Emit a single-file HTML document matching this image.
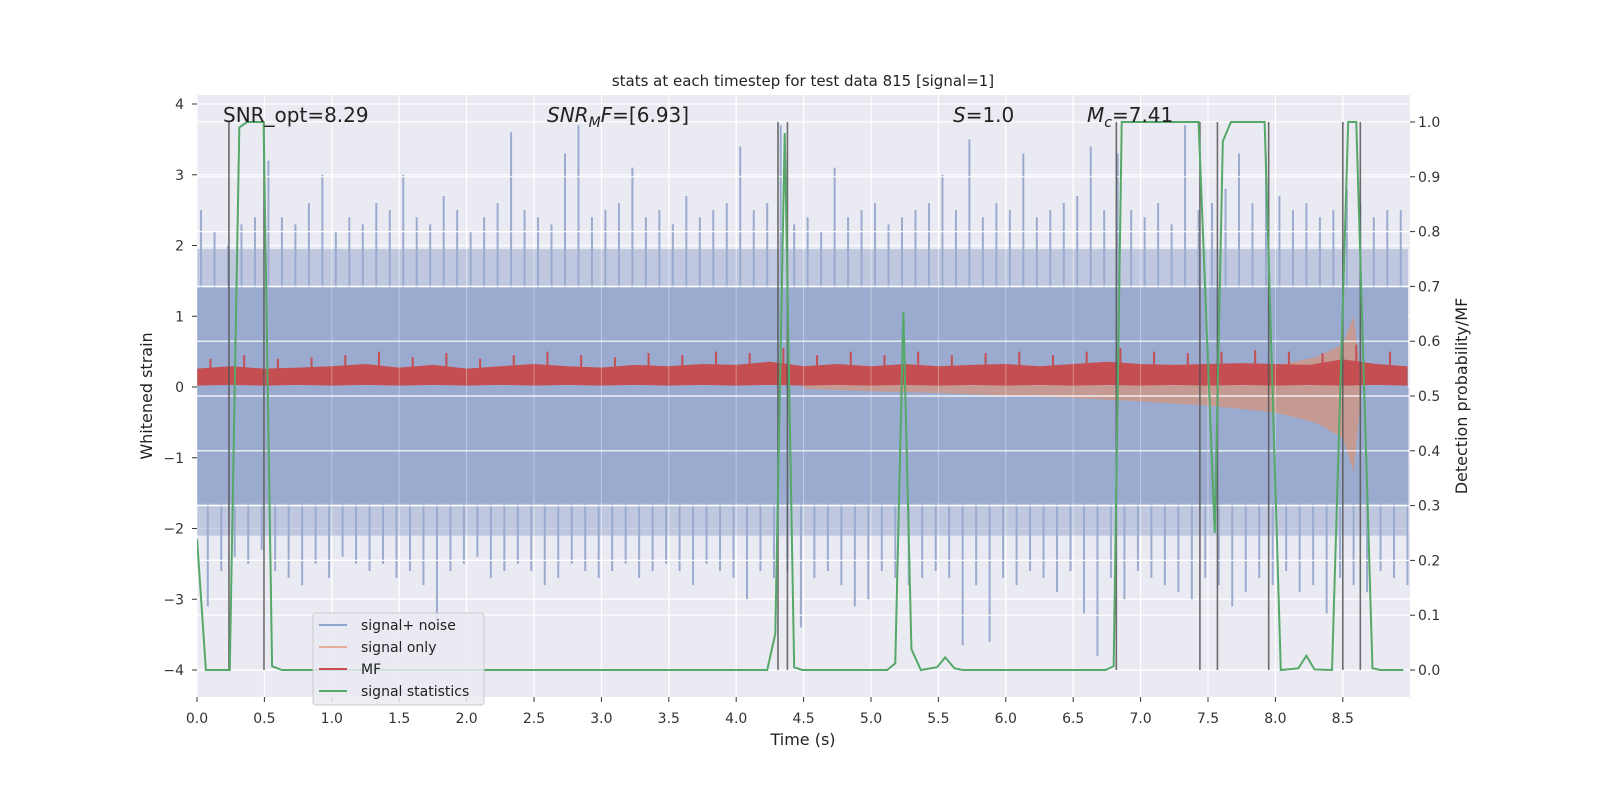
<!DOCTYPE html>
<html><head><meta charset="utf-8"><style>
html,body{margin:0;padding:0;background:#fff;}
svg{display:block;font-family:"DejaVu Sans","Liberation Sans",sans-serif;}
</style></head><body>
<svg id="chart" width="1600" height="800" viewBox="0 0 1600 800" xmlns="http://www.w3.org/2000/svg">
<defs><clipPath id="plotClip"><rect x="197" y="95" width="1213" height="602"/></clipPath></defs>
<rect x="0" y="0" width="1600" height="800" fill="#ffffff"/>
<rect x="197" y="95" width="1213" height="602" fill="#eaeaf2"/>
<g clip-path="url(#plotClip)">
<g id="gridLeft"></g>
<g id="noise"></g>
<g id="sigonly"></g>
<g id="mf"></g>
<g id="gridRight"></g>
<g id="vlines"></g>
<g id="stat"></g>
</g>
<g id="axes"></g>
<text x="803" y="86" text-anchor="middle" font-size="15" fill="#222">stats at each timestep for test data 815 [signal=1]</text>
<text x="223" y="122" font-size="20" fill="#222">SNR_opt=8.29</text>
<text x="547" y="122" font-size="20" fill="#222"><tspan font-style="italic">SNR</tspan><tspan font-style="italic" font-size="14" dy="5">M</tspan><tspan font-style="italic" dy="-5">F</tspan>=[6.93]</text>
<text x="953" y="122" font-size="20" fill="#222"><tspan font-style="italic">S</tspan>=1.0</text>
<text x="1087" y="122" font-size="20" fill="#222"><tspan font-style="italic">M</tspan><tspan font-style="italic" font-size="14" dy="5">c</tspan><tspan dy="-5">=7.41</tspan></text>
<text x="803" y="745" text-anchor="middle" font-size="16" fill="#222">Time (s)</text>
<text transform="translate(152,396) rotate(-90)" text-anchor="middle" font-size="16" fill="#222">Whitened strain</text>
<text transform="translate(1467,396) rotate(-90)" text-anchor="middle" font-size="16" fill="#222">Detection probability/MF</text>
<g>
<rect x="313" y="613" width="171" height="92" rx="3" fill="#eaeaf2" fill-opacity="0.85" stroke="#cccccc"/>
<line x1="319" y1="625" x2="347" y2="625" stroke="#8fa4cc" stroke-width="2"/>
<text x="361" y="630" font-size="14" fill="#222">signal+ noise</text>
<line x1="319" y1="647" x2="347" y2="647" stroke="#e6ad96" stroke-width="2"/>
<text x="361" y="652" font-size="14" fill="#222">signal only</text>
<line x1="319" y1="669" x2="347" y2="669" stroke="#c44e52" stroke-width="2"/>
<text x="361" y="674" font-size="14" fill="#222">MF</text>
<line x1="319" y1="691" x2="347" y2="691" stroke="#55a868" stroke-width="2"/>
<text x="361" y="696" font-size="14" fill="#222">signal statistics</text>
</g>
</svg>
<script>
// ---- data ----
const xTicks = [0,0.5,1,1.5,2,2.5,3,3.5,4,4.5,5,5.5,6,6.5,7,7.5,8,8.5];
const xTickLabels = ["0.0","0.5","1.0","1.5","2.0","2.5","3.0","3.5","4.0","4.5","5.0","5.5","6.0","6.5","7.0","7.5","8.0","8.5"];
const leftTicks = [-4,-3,-2,-1,0,1,2,3,4];
const rightTicks = [0,0.1,0.2,0.3,0.4,0.5,0.6,0.7,0.8,0.9,1.0];
const rightTickLabels = ["0.0","0.1","0.2","0.3","0.4","0.5","0.6","0.7","0.8","0.9","1.0"];
// noise spikes sampled every 0.1 s
const noiseHigh = [2.5,2.2,2.0,2.3,2.4,3.2,2.4,2.3,2.6,3.0,2.2,2.4,2.3,2.6,2.5,3.0,2.4,2.3,2.7,2.5,2.2,2.4,2.6,3.6,2.5,2.4,2.3,3.3,3.7,2.4,2.5,2.6,3.1,2.4,2.5,2.3,2.7,2.4,2.5,2.6,3.4,2.5,2.6,3.7,2.3,2.4,2.2,3.1,2.4,2.5,2.6,2.3,2.4,2.5,2.6,3.0,2.5,3.5,2.4,2.6,2.5,3.3,2.4,2.5,2.6,2.7,3.4,2.5,3.3,2.5,2.4,2.6,2.3,3.7,2.5,2.6,2.8,3.3,2.6,3.3,2.7,2.5,2.6,2.4,2.5,2.8,2.6,2.4,2.5,2.5];
const noiseLow = [-3.1,-2.6,-2.4,-2.5,-2.3,-2.6,-2.7,-2.8,-2.5,-2.7,-2.4,-2.5,-2.6,-2.5,-2.7,-2.6,-2.8,-3.3,-2.6,-2.5,-2.4,-2.7,-2.6,-2.5,-2.6,-2.8,-2.7,-2.5,-2.6,-2.7,-2.6,-2.5,-2.7,-2.6,-2.5,-2.6,-2.8,-2.5,-2.6,-2.7,-3.0,-2.6,-2.7,-2.6,-3.4,-2.7,-2.6,-2.8,-3.1,-3.0,-2.6,-2.7,-2.8,-2.7,-2.6,-2.7,-3.65,-2.8,-3.6,-2.7,-2.8,-2.6,-2.7,-2.9,-2.6,-3.2,-3.8,-2.7,-3.0,-2.6,-2.7,-2.8,-2.9,-3.0,-2.7,-2.8,-3.1,-2.9,-2.7,-2.8,-2.6,-2.9,-2.8,-3.2,-2.7,-2.8,-2.9,-2.6,-2.7,-2.8];
const noiseCoreHigh = 1.4, noiseCoreLow = -1.65;
const noiseMidHigh = 1.95, noiseMidLow = -2.1;
// MF envelope every 0.25 s
const mfTimes = [0,0.25,0.5,0.75,1,1.25,1.5,1.75,2,2.25,2.5,2.75,3,3.25,3.5,3.75,4,4.25,4.5,4.75,5,5.25,5.5,5.75,6,6.25,6.5,6.75,7,7.25,7.5,7.75,8,8.25,8.5,8.75,8.98];
const mfHigh = [0.4,0.45,0.4,0.42,0.45,0.5,0.42,0.48,0.4,0.45,0.5,0.45,0.42,0.48,0.45,0.5,0.48,0.55,0.45,0.5,0.45,0.5,0.45,0.48,0.5,0.45,0.5,0.55,0.5,0.48,0.5,0.52,0.5,0.48,0.6,0.5,0.45];
const mfLow = [0.02,0.03,0.02,0.03,0.02,0.03,0.02,0.03,0.02,0.03,0.02,0.03,0.02,0.03,0.02,0.03,0.02,0.03,0.02,0.03,0.02,0.03,0.02,0.03,0.02,0.03,0.02,0.03,0.02,0.03,0.02,0.03,0.02,0.03,0.02,0.03,0.02];
// signal-only chirp envelope
const sigTimes = [4.5,5.0,5.5,6.0,6.5,7.0,7.5,8.0,8.3,8.5,8.58,8.63];
const sigAmp = [0.02,0.05,0.07,0.1,0.13,0.17,0.22,0.3,0.42,0.6,1.0,0.2];
// signal statistics
const statT = [0,0.066,0.243,0.314,0.371,0.494,0.557,0.63,4.23,4.29,4.36,4.43,4.49,5.12,5.18,5.24,5.30,5.37,5.49,5.55,5.62,5.68,6.74,6.80,6.86,7.43,7.55,7.61,7.67,7.92,8.04,8.17,8.23,8.29,8.42,8.54,8.60,8.72,8.78,8.95];
const statP = [0.24,0,0,0.99,1.0,1.0,0.007,0,0,0.066,0.98,0.005,0,0,0.012,0.654,0.038,0,0.005,0.023,0.003,0,0,0.007,1.0,1.0,0.25,0.965,1.0,1.0,0,0.003,0.026,0.001,0,1.0,1.0,0.003,0,0];
const eventTimes = [0.237,0.497,4.31,4.38,6.82,7.44,7.57,7.95,8.50,8.63];

// ---- scales ----
const X0=197, X1=1410, Y0=95, Y1=697;
const xs = t => 197 + t*134.8;
const yl = v => 387 - v*70.75;
const yr = p => 670 - p*548;
const NS="http://www.w3.org/2000/svg";
function mk(tag, parent, attrs){const e=document.createElementNS(NS,tag);for(const k in attrs)e.setAttribute(k,attrs[k]);parent.appendChild(e);return e;}
const G=id=>document.getElementById(id);

leftTicks.forEach(v=>{const l=mk('line',G('gridLeft'),{x1:X0,x2:X1,y1:yl(v),y2:yl(v),stroke:'#fff','stroke-width':1.2});

});
xTicks.forEach(t=>{const l=mk('line',G('gridLeft'),{x1:xs(t),x2:xs(t),y1:Y0,y2:Y1,stroke:'#fff','stroke-width':1.2});

});

// noise
const nz=G('noise');
let r=mk('rect',nz,{x:X0,width:X1-X0-2,y:yl(noiseMidHigh),height:yl(noiseMidLow)-yl(noiseMidHigh),fill:'#9aabcf','fill-opacity':0.55});


r=mk('rect',nz,{x:X0,width:X1-X0-2,y:yl(noiseCoreHigh),height:yl(noiseCoreLow)-yl(noiseCoreHigh),fill:'#9aabcf'});


noiseHigh.forEach((v,i)=>{const t=i*0.1+0.03;
const l=mk('line',nz,{x1:xs(t),x2:xs(t),y1:yl(v),y2:yl(0),stroke:'#9aabcf','stroke-width':2});


const l2=mk('line',nz,{x1:xs(t+0.05),x2:xs(t+0.05),y1:yl(noiseLow[i]),y2:yl(0),stroke:'#9aabcf','stroke-width':2});

});

// signal only
let pts=sigTimes.map((t,i)=>xs(t)+','+yl(sigAmp[i]));
pts=pts.concat(sigTimes.slice().reverse().map((t,i)=>xs(t)+','+yl(-sigAmp[sigTimes.length-1-i]*1.2)));
r=mk('polygon',G('sigonly'),{points:pts.join(' '),fill:'#c49a92'});



// MF
pts=mfTimes.map((t,i)=>xs(t)+','+yl(mfHigh[i]*0.65));
pts=pts.concat(mfTimes.slice().reverse().map((t,i)=>xs(t)+','+yl(mfLow[mfTimes.length-1-i])));
r=mk('polygon',G('mf'),{points:pts.join(' '),fill:'#c44e52'});


mfTimes.forEach((t,i)=>{const l=mk('line',G('mf'),{x1:xs(t+0.1),x2:xs(t+0.1),y1:yl(mfHigh[i]),y2:yl(0.1),stroke:'#c44e52','stroke-width':2});

});

rightTicks.forEach(p=>{const l=mk('line',G('gridRight'),{x1:X0,x2:X1,y1:yr(p),y2:yr(p),stroke:'#fff','stroke-width':1.2});

});
xTicks.forEach(t=>{const l=mk('line',G('gridRight'),{x1:xs(t),x2:xs(t),y1:Y0,y2:Y1,stroke:'#fff','stroke-width':1,'stroke-opacity':0.35});

});

eventTimes.forEach(t=>{const l=mk('line',G('vlines'),{x1:xs(t),x2:xs(t),y1:yr(1.0),y2:yl(-4),stroke:'#555','stroke-width':1.6,'stroke-opacity':0.85});

});

r=mk('polyline',G('stat'),{points:statT.map((t,i)=>xs(t)+','+yr(statP[i])).join(' '),fill:'none',stroke:'#55a868','stroke-width':2});



const ax=G('axes');
xTicks.forEach((t,i)=>{const l=mk('line',ax,{x1:xs(t),x2:xs(t),y1:Y1,y2:Y1+5,stroke:'#333'});


const tx=mk('text',ax,{x:xs(t),y:723,'text-anchor':'middle','font-size':14,fill:'#333'});tx.textContent=xTickLabels[i];

});
leftTicks.forEach(v=>{const l=mk('line',ax,{x1:X0-5,x2:X0,y1:yl(v),y2:yl(v),stroke:'#333'});


const tx=mk('text',ax,{x:184,y:yl(v)+5,'text-anchor':'end','font-size':14,fill:'#333'});tx.textContent=(v<0?'\u2212'+(-v):String(v));

});
rightTicks.forEach((p,i)=>{const l=mk('line',ax,{x1:X1,x2:X1+5,y1:yr(p),y2:yr(p),stroke:'#333'});


const tx=mk('text',ax,{x:1418,y:yr(p)+5,'font-size':14,fill:'#333'});tx.textContent=rightTickLabels[i];

});
</script>
</body></html>
